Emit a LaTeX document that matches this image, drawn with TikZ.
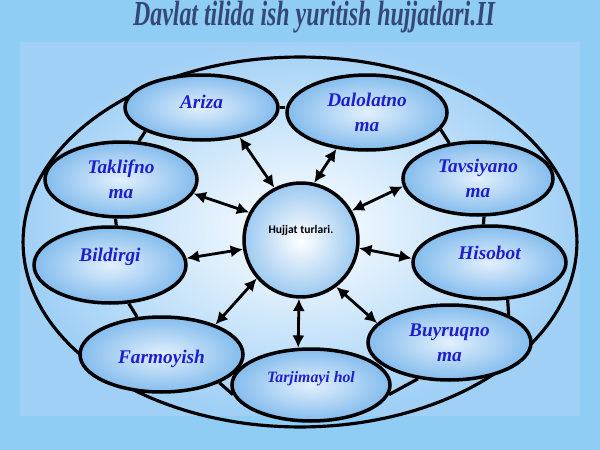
\documentclass[tikz,border=0pt]{standalone}
\usepackage{fontspec}
\setmainfont{Liberation Serif}
\newfontfamily\hubfont{Carlito}
\usetikzlibrary{positioning}
\usetikzlibrary{shapes.geometric}
\usetikzlibrary{arrows.meta}

\definecolor{fonrang}{RGB}{143,205,245}
\definecolor{ichrang}{RGB}{160,208,246}
\definecolor{chetrang}{RGB}{132,188,237}
\definecolor{markazrang}{RGB}{226,240,253}
\definecolor{matnrang}{RGB}{30,30,205}
\definecolor{sarlavharang}{RGB}{52,72,118}

\tikzset{
  turi/.style={ellipse, draw=black, line width=2pt, inner sep=0pt,
    inner color=markazrang, outer color=chetrang, text=matnrang, align=center,
    font=\fontsize{11}{14}\selectfont\bfseries\itshape,
    minimum width=3.1cm, minimum height=1.5cm},
  markaz/.style={circle, draw=black, line width=2pt, inner sep=0pt,
    inner color=white, outer color=chetrang!80, minimum size=2.28cm,
    font=\hubfont\bfseries\fontsize{6.6}{8}\selectfont},
  strelka/.style={{Latex[length=7pt,width=7pt]}-{Latex[length=7pt,width=7pt]}, line width=1.6pt},
  ulash/.style={line width=1.8pt}
}

\begin{document}
\begin{tikzpicture}[x=0.02cm, y=-0.02cm]
  % fon
  \fill[fonrang] (0,0) rectangle (600,450);
  \fill[ichrang] (20,42) rectangle (580,415);
  \shade[inner color=white, outer color=ichrang] (20,42) rectangle (580,415);
  \useasboundingbox (0,0) rectangle (600,450);

  \node[text=sarlavharang, font=\fontsize{20}{21}\selectfont\bfseries\itshape] (sarlavha) at (314,17)
    {\scalebox{0.68}[1]{Davlat tilida ish yuritish hujjatlari.II}};

  % katta oval
  \draw[line width=1.8pt] (300,242) ellipse [x radius=5.54cm, y radius=3.7cm];

  \node[turi, minimum width=3.06cm, minimum height=1.3cm, text depth=6.6pt] (ariza) at (201.5,107.5) {Ariza};
  \node[turi, minimum width=3.2cm] (dalolat) at (367,112.5) {Dalolatno\\ma};
  \node[turi, minimum width=3.04cm] (taklif) at (121,179.5) {Taklifno\\ma};
  \node[turi, minimum width=3cm, minimum height=1.46cm] (tavsiya) at (478,178.5) {Tavsiyano\\ma};
  \node[turi, minimum width=3.04cm, minimum height=1.52cm, text depth=11.7pt] (bildir) at (110,265) {Bildirgi};
  \node[turi, minimum width=3.06cm, minimum height=1.46cm, text depth=11.1pt] (hisobot) at (489.5,262.5) {Hisobot};
  \node[turi, minimum width=3.26cm, text height=12.4pt, text depth=2.4pt] (farmoy) at (161.5,354.5) {Farmoyish};
  \node[turi, minimum width=3.16cm, minimum height=1.44cm, text depth=9.1pt,
    font=\fontsize{9}{11}\selectfont\bfseries\itshape] (tarjima) at (311,385) {Tarjimayi hol};
  \node[turi, minimum width=3.26cm] (buyruq) at (449.5,342.5) {Buyruqno\\ma};
  \node[markaz, text depth=11.8pt] (hujjat) at (301,240) {Hujjat turlari.};

  % ulanishlar
  \draw[ulash] (ariza.east) -- (ariza.east -| dalolat.west);
  \draw[ulash] (ariza.203) -- (taklif.65);
  \draw[ulash] (dalolat.-13.5) -- (tavsiya.129);
  \draw[ulash] (taklif.262) -- (bildir.81);
  \draw[ulash] (tavsiya.279) -- (hisobot.99);
  \draw[ulash] (bildir.296) -- (farmoy.123);
  \draw[ulash] (farmoy.-26) -- (tarjima.187);
  \draw[ulash] (tarjima.-7) -- (buyruq.229);
  \draw[ulash] (hisobot.296) -- (buyruq.25);

  % strelkalar
  \draw[strelka] (hujjat.117) -- (ariza.-38);
  \draw[strelka] (hujjat.77) -- (dalolat.230);
  \draw[strelka] (hujjat.152) -- (taklif.-11);
  \draw[strelka] (hujjat.30) -- (tavsiya.186);
  \draw[strelka] (hujjat.189) -- (bildir.5);
  \draw[strelka] (hujjat.-8) -- (hisobot.177);
  \draw[strelka] (hujjat.221) -- (farmoy.29);
  \draw[strelka] (hujjat.268) -- (tarjima.109);
  \draw[strelka] (hujjat.307) -- (buyruq.165);
\end{tikzpicture}
\end{document}
